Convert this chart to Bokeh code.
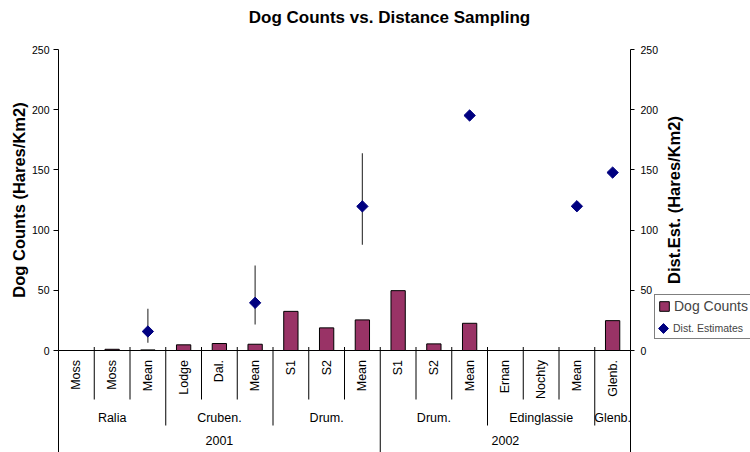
import math
from bokeh.plotting import figure
from bokeh.models import (Range1d, LinearAxis, FixedTicker, Label, Legend, LegendItem)
from bokeh.core.properties import value
from bokeh.embed import file_html
from bokeh.resources import INLINE

nan = float("nan")

# ---------------- data ----------------
site_labels = ["Moss", "Moss", "Mean", "Lodge", "Dal.", "Mean", "S1", "S2", "Mean",
               "S1", "S2", "Mean", "Ernan", "Nochty", "Mean", "Glenb."]
site_groups = (["Ralia"] * 3 + ["Cruben."] * 3 + ["Drum."] * 3 +
               ["Drum."] * 3 + ["Edinglassie"] * 3 + ["Glenb."])
years = ["2001"] * 9 + ["2002"] * 7
dog_counts = [0, 1.0, 0.5, 4.7, 5.8, 5.2, 32.5, 18.8, 25.4,
              49.7, 5.5, 22.6, 0, 0, 0, 24.8]
dist_estimates = [nan, nan, 15.8, nan, nan, 39.6, nan, nan, 119.7,
                  nan, nan, 195.2, nan, nan, 119.8, 147.8]
dist_low = [nan, nan, 6.4, nan, nan, 21.6, nan, nan, 87.8,
            nan, nan, nan, nan, nan, nan, nan]
dist_high = [nan, nan, 34.6, nan, nan, 70.6, nan, nan, 163.9,
             nan, nan, nan, nan, nan, nan, nan]
y_ticks = [0, 50, 100, 150, 200, 250]

# ---------------- layout constants ----------------
W, H = 750, 452
FONT = "Liberation Sans"
BAR_COLOR = "#993366"
DIAMOND_COLOR = "#000080"
PLOT_L, PLOT_R = 58, 630          # pixel position of the two value axes
PLOT_T, PLOT_B = 49, 350          # pixel position of 250 and 0
Y_LO, Y_HI = 0, 250

n = len(site_labels)
xs = [i + 0.5 for i in range(n)]

ux = n / (PLOT_R - PLOT_L)                 # data units per pixel (x)
uy = (Y_HI - Y_LO) / (PLOT_B - PLOT_T)     # data units per pixel (y)
x_range = Range1d(-PLOT_L * ux, n + (W - PLOT_R) * ux)
y_start = Y_LO - (H - PLOT_B) * uy
y_range = Range1d(y_start, Y_HI + PLOT_T * uy)

def ypx(px_below_axis):
    return Y_LO - px_below_axis * uy

Y_TICK_TOP = ypx(-3.5)
Y_L1_BOTTOM = ypx(49)
Y_L2_BOTTOM = ypx(75)
Y_L1_TEXT = ypx(9.5)
Y_L2_TEXT = ypx(67)
Y_L3_TEXT = ypx(90)

p = figure(width=W, height=H, output_backend="svg", toolbar_location=None,
           x_range=x_range, y_range=y_range,
           x_axis_location=None, y_axis_location="left",
           min_border=0, outline_line_color=None)
p.extra_y_ranges = {"dist": Range1d(y_range.start, y_range.end)}
p.grid.grid_line_color = None
p.background_fill_color = "white"
p.border_fill_color = "white"

def style_axis(ax, tick_out, standoff):
    ax.ticker = FixedTicker(ticks=y_ticks, minor_ticks=[])
    ax.bounds = (Y_LO, Y_HI)
    ax.major_tick_out = tick_out
    ax.major_tick_in = 0
    ax.minor_tick_out = 0
    ax.minor_tick_in = 0
    ax.major_label_standoff = standoff
    ax.major_label_text_font = FONT
    ax.major_label_text_font_size = "10.5px"
    ax.major_label_text_color = "black"
    ax.axis_line_color = "black"
    ax.major_tick_line_color = "black"

left_axis = p.yaxis[0]
style_axis(left_axis, 5, 4)
left_axis.fixed_location = 0
right_axis = LinearAxis(y_range_name="dist", fixed_location=n)
style_axis(right_axis, 4, 6)
p.add_layout(right_axis, "right")

# category axis line at zero
p.segment(x0=[0], y0=[0], x1=[n], y1=[0], line_color="black", line_width=1)

# separators between categories (and at both ends)
sep_x, sep_top, sep_bottom = [], [], []
for b in range(0, n + 1):
    if b == 0 or b == n:
        top, bottom = 0, y_start
    elif years[b] != years[b - 1]:
        top, bottom = Y_TICK_TOP, y_start
    elif site_groups[b] != site_groups[b - 1]:
        top, bottom = Y_TICK_TOP, Y_L2_BOTTOM
    else:
        top, bottom = Y_TICK_TOP, Y_L1_BOTTOM
    sep_x.append(b)
    sep_top.append(top)
    sep_bottom.append(bottom)
p.segment(x0=sep_x, y0=sep_top, x1=sep_x, y1=sep_bottom,
          line_color="black", line_width=1)

# bars
bars = p.vbar(x=xs, top=dog_counts, bottom=0, width=0.4,
              fill_color=BAR_COLOR, line_color="black", line_width=1)

# error bars and diamonds
ex, elo, ehi = [], [], []
dx, dy = [], []
for i in range(n):
    if not math.isnan(dist_low[i]):
        ex.append(xs[i]); elo.append(dist_low[i]); ehi.append(dist_high[i])
    if not math.isnan(dist_estimates[i]):
        dx.append(xs[i]); dy.append(dist_estimates[i])
p.segment(x0=ex, y0=elo, x1=ex, y1=ehi, line_color="#404040", line_width=1.2,
          y_range_name="dist")
p.scatter(x=dx, y=dy, marker="square", size=8, angle=math.pi / 4,
          fill_color=DIAMOND_COLOR, line_color=DIAMOND_COLOR,
          y_range_name="dist")

# category labels (level 1: rotated)
p.text(x=xs, y=[Y_L1_TEXT] * n, text=site_labels, angle=math.pi / 2,
       text_align="right", text_baseline="middle", text_color="black",
       text_font=value(FONT), text_font_size=value("12.5px"))

# level 2 groups
g_x, g_t = [], []
start = 0
for i in range(1, n + 1):
    if i == n or site_groups[i] != site_groups[start] or years[i] != years[start]:
        g_x.append((start + i) / 2)
        g_t.append(site_groups[start])
        start = i
p.text(x=g_x, y=[Y_L2_TEXT] * len(g_x), text=g_t, text_align="center",
       text_baseline="middle", text_color="black",
       text_font=value(FONT), text_font_size=value("12.5px"))

# level 3 years
y_x, y_t = [], []
start = 0
for i in range(1, n + 1):
    if i == n or years[i] != years[start]:
        y_x.append((start + i) / 2)
        y_t.append(years[start])
        start = i
p.text(x=y_x, y=[Y_L3_TEXT] * len(y_x), text=y_t, text_align="center",
       text_baseline="middle", text_color="black",
       text_font=value(FONT), text_font_size=value("12.5px"))

# title and axis labels (screen x measured from the left edge)
p.add_layout(Label(x=389, y=H - 17, x_units="screen", y_units="screen",
                   text="Dog Counts vs. Distance Sampling", text_align="center",
                   text_baseline="middle", text_font=FONT, text_font_size="17px",
                   text_font_style="bold", text_color="black"))
p.add_layout(Label(x=18.5, y=(Y_LO + Y_HI) / 2, x_units="screen", y_units="data",
                   text="Dog Counts (Hares/Km2)", angle=90, angle_units="deg",
                   text_align="center", text_baseline="middle", text_font=FONT,
                   text_font_size="16.5px", text_font_style="bold",
                   text_color="black"))
p.add_layout(Label(x=673, y=(Y_LO + Y_HI) / 2, x_units="screen", y_units="data",
                   text="Dist.Est. (Hares/Km2)", angle=90, angle_units="deg",
                   text_align="center", text_baseline="middle", text_font=FONT,
                   text_font_size="16.5px", text_font_style="bold",
                   text_color="black"))

# legend (two overlaid legends so that each entry keeps its own text size)
LEG_LEFT, LEG_BOTTOM = 654, 339          # pixel position of the legend box
LEG_PAD, ROW_H, ROW_GAP, GLYPH_W = 3, 16, 5, 12
dummy = p.scatter(x=[], y=[], marker="square", size=1, fill_alpha=0, line_alpha=0)
leg_a = Legend(items=[LegendItem(label="Dog Counts", renderers=[bars]),
                      LegendItem(label=" ", renderers=[dummy])],
               location=(LEG_LEFT, H - LEG_BOTTOM), orientation="vertical",
               margin=0, padding=LEG_PAD, spacing=ROW_GAP,
               glyph_width=GLYPH_W, glyph_height=12,
               label_height=ROW_H, label_standoff=4,
               label_text_font=FONT, label_text_font_size="14px",
               border_line_color="black", border_line_width=1,
               background_fill_alpha=0)
leg_b = Legend(items=[LegendItem(label="Dist. Estimates", renderers=[dummy])],
               location=(LEG_LEFT + LEG_PAD, H - LEG_BOTTOM + LEG_PAD),
               orientation="vertical", margin=0,
               padding=0, spacing=0, glyph_width=GLYPH_W, glyph_height=ROW_H,
               label_height=ROW_H, label_standoff=4,
               label_text_font=FONT, label_text_font_size="10.5px",
               border_line_alpha=0, background_fill_alpha=0)
p.add_layout(leg_a)
p.add_layout(leg_b)

# legend key for the distance estimates (a rotated square, as in the chart)
key_px_x = LEG_LEFT + LEG_PAD + GLYPH_W / 2
key_px_y = LEG_BOTTOM - LEG_PAD - ROW_H / 2
p.scatter(x=[(key_px_x - PLOT_L) * ux], y=[Y_LO + (PLOT_B - key_px_y) * uy],
          marker="square", size=7, angle=math.pi / 4,
          fill_color=DIAMOND_COLOR, line_color=DIAMOND_COLOR)

open("out.html", "w").write(file_html(p, INLINE))
